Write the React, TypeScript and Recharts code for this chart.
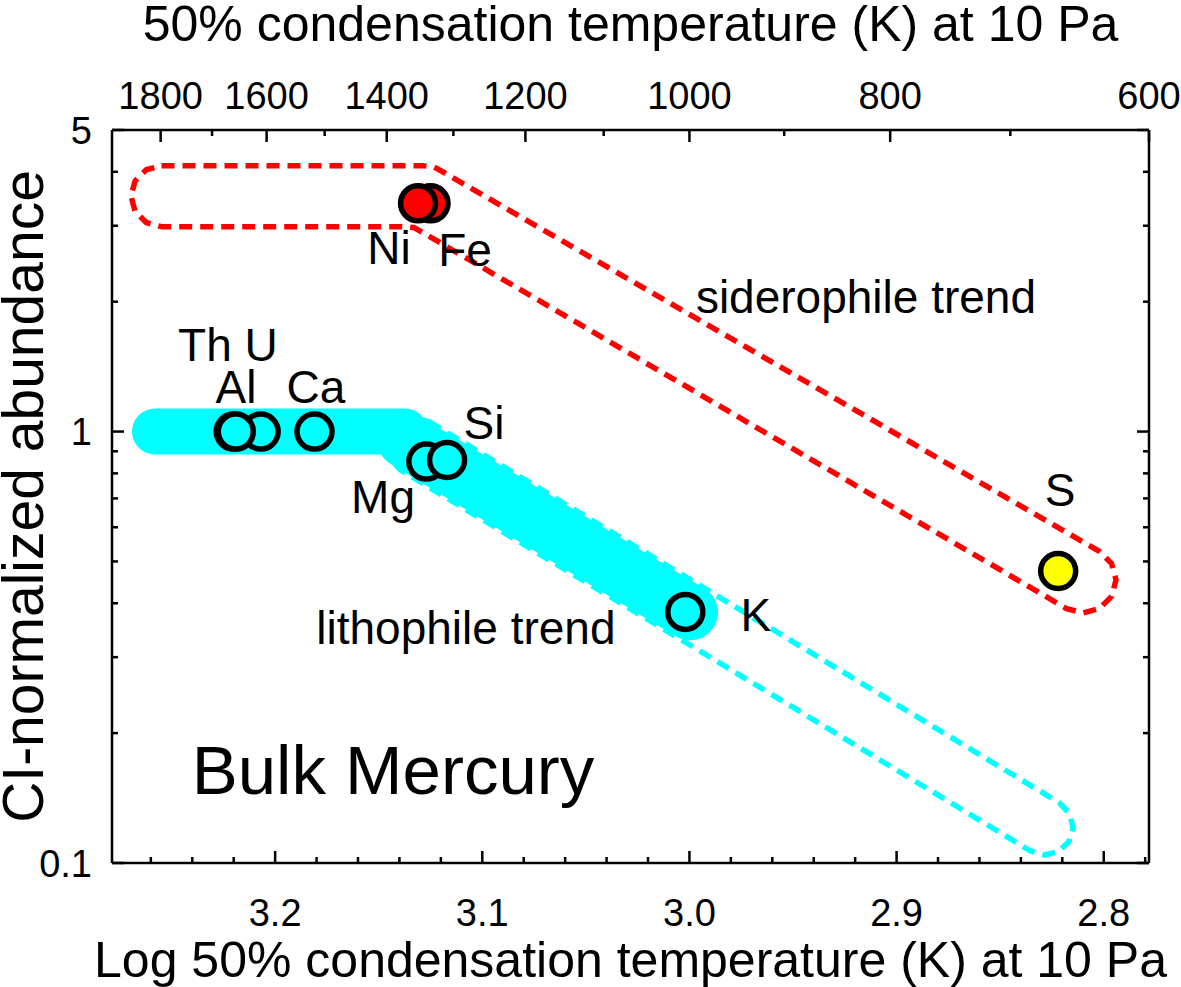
import React from 'react';
import { ComposedChart, XAxis, YAxis, Line, Scatter } from 'recharts';

const FONT = '"Liberation Sans", Arial, Helvetica, sans-serif';

// ---------- axes ----------
const tempRangeK = [600, 1900];
const logTempTicks = [3.26, 3.24, 3.22, 3.2, 3.18, 3.16, 3.14, 3.12, 3.1, 3.08, 3.06, 3.04, 3.02, 3.0, 2.98, 2.96, 2.94, 2.92, 2.9, 2.88, 2.86, 2.84, 2.82, 2.8, 2.78];
const logTempMajor = [3.2, 3.1, 3.0, 2.9, 2.8];
const tempTicksK = [1800, 1700, 1600, 1500, 1400, 1300, 1200, 1100, 1000, 900, 800, 700, 600];
const tempMajorK = [1800, 1600, 1400, 1200, 1000, 800, 600];
const abundanceRange = [0.1, 5];
const abundanceTicks = [0.1, 0.2, 0.3, 0.4, 0.5, 0.6, 0.7, 0.8, 0.9, 1, 2, 3, 4, 5];
const abundanceMajor = [0.1, 1, 5];

// ---------- elements (log10 T50, CI-normalized abundance) ----------
const lithophileNames = ['U', 'Th', 'Al', 'Ca', 'Mg', 'Si', 'K'];
const lithophileLogT = [3.207, 3.220, 3.219, 3.181, 3.127, 3.117, 3.002];
const lithophileAbund = [1.0, 1.0, 1.0, 1.0, 0.852, 0.859, 0.382];
const siderophileNames = ['Fe', 'Ni'];
const siderophileLogT = [3.125, 3.131];
const siderophileAbund = [3.38, 3.38];
const sulfurNames = ['S'];
const sulfurLogT = [2.822];
const sulfurAbund = [0.475];

// ---------- trend shapes (log10 T, abundance) ----------
const lithophileBandFlat = [[3.258, 1.0], [3.1373, 1.0]];
const lithophileBandSlope = [[3.1373, 0.956], [2.9997, 0.381]];
const lithophileOutline = [
  [3.12548, 1.0526], [2.82135, 0.13775], [2.81652, 0.13024], [2.81483, 0.1208],
  [2.81677, 0.11216], [2.82183, 0.10633], [2.82864, 0.10436], [2.83535, 0.10661],
  [3.13948, 0.8147], [3.14431, 0.8616], [3.146, 0.929], [3.14407, 1.0005],
  [3.139, 1.0554], [3.13219, 1.0753],
];
const siderophileOutline = [
  [3.25485, 4.134], [3.1291, 4.134], [3.12331, 4.105], [3.11848, 3.985],
  [2.80209, 0.5276], [2.79625, 0.4949], [2.79408, 0.4531], [2.7962, 0.4149],
  [2.802, 0.389], [2.80996, 0.3798], [2.81793, 0.3888], [3.12717, 2.862],
  [3.13296, 2.971], [3.13876, 2.985], [3.25485, 2.985], [3.26222, 3.051],
  [3.2676, 3.238], [3.26958, 3.513], [3.2676, 3.811], [3.26222, 4.044],
];

// ---------- annotations (anchor in data coords) ----------
const labelTexts = ['Ni', 'Fe', 'siderophile trend', 'Th U', 'Al', 'Ca', 'Si', 'Mg', 'K', 'lithophile trend', 'S'];
const labelLogT = [3.145, 3.1083, 2.9148, 3.2228, 3.2189, 3.1803, 3.0992, 3.1479, 2.9679, 3.1079, 2.8211];
const labelAbund = [2.664, 2.636, 2.051, 1.588, 1.269, 1.269, 1.047, 0.7053, 0.3757, 0.3505, 0.7322];
const titleTexts = ['Bulk Mercury'];
const titleLogT = [3.1431];
const titleAbund = [0.1643];

const pts = (arr: number[][]) => arr.map(([x, a]) => ({ x, a }));
const zipPts = (names: string[], xs: number[], as: number[]) =>
  names.map((n, i) => ({ name: n, x: xs[i], a: as[i] }));

const xDomain = [Math.log10(tempRangeK[0]), Math.log10(tempRangeK[1])];
const topTicks = tempTicksK.map((t) => Math.log10(t));
const near = (a: number, b: number) => Math.abs(a - b) < 1e-6;

const AX = '#000';
const TICK_FS = 38;
const axisStyle = { stroke: AX, strokeWidth: 2.5 };

const BottomTick = (p: any) => {
  const v = p.payload.value;
  const major = logTempMajor.some((m) => near(m, v));
  return (
    <g>
      <line x1={p.x} y1={p.y} x2={p.x} y2={p.y - (major ? 12 : 6)} stroke={AX} strokeWidth={2.5} />
      {major && (
        <text x={p.x} y={p.y + 63} textAnchor="middle" fontSize={TICK_FS} fontFamily={FONT} fill="#000">
          {v.toFixed(1)}
        </text>
      )}
    </g>
  );
};

const TopTick = (p: any) => {
  const v = p.payload.value;
  const t = tempTicksK.find((k) => near(Math.log10(k), v));
  const major = t !== undefined && tempMajorK.includes(t);
  return (
    <g>
      <line x1={p.x} y1={p.y} x2={p.x} y2={p.y + (major ? 12 : 6)} stroke={AX} strokeWidth={2.5} />
      {major && (
        <text x={p.x} y={p.y - 21} textAnchor="middle" fontSize={TICK_FS} fontFamily={FONT} fill="#000">
          {String(t)}
        </text>
      )}
    </g>
  );
};

const LeftTick = (p: any) => {
  const v = p.payload.value;
  const major = abundanceMajor.some((m) => near(m, v));
  return (
    <g>
      <line x1={p.x} y1={p.y} x2={p.x + (major ? 12 : 6)} y2={p.y} stroke={AX} strokeWidth={2.5} />
      {major && (
        <text x={p.x - 20} y={p.y + 13.5} textAnchor="end" fontSize={TICK_FS} fontFamily={FONT} fill="#000">
          {String(v)}
        </text>
      )}
    </g>
  );
};

const RightTick = (p: any) => {
  const v = p.payload.value;
  const major = abundanceMajor.some((m) => near(m, v));
  return <line x1={p.x} y1={p.y} x2={p.x - (major ? 12 : 6)} y2={p.y} stroke={AX} strokeWidth={2.5} />;
};

const circleShape = (fill: string) => (p: any) => (
  <circle cx={p.cx} cy={p.cy} r={17.5} fill={fill} stroke="#000" strokeWidth={5.5} />
);

const textShape = (size: number) => (p: any) => (
  <text x={p.cx} y={p.cy + size * 0.35} textAnchor="middle" fontSize={size} fontFamily={FONT} fill="#000">
    {p.payload.name}
  </text>
);

export default function App() {
  const labels = zipPts(labelTexts, labelLogT, labelAbund);
  const titles = zipPts(titleTexts, titleLogT, titleAbund);
  return (
    <div style={{ position: 'absolute', left: 0, top: 0, background: '#fff' }}>
      <ComposedChart width={1181} height={987} margin={{ top: 0, right: 0, bottom: 0, left: 0 }}>
        <XAxis
          xAxisId="b" dataKey="x" type="number" orientation="bottom" domain={xDomain} allowDataOverflow reversed
          ticks={logTempTicks} interval={0} tickSize={0} tickMargin={0} tickLine={false} tick={BottomTick}
          height={124} axisLine={axisStyle}
          label={{ value: 'Log 50% condensation temperature (K) at 10 Pa', position: 'insideBottom', offset: 10, fontSize: 50, fontFamily: FONT, fill: '#000' }}
        />
        <XAxis
          xAxisId="t" dataKey="x" type="number" orientation="top" domain={xDomain} allowDataOverflow reversed
          ticks={topTicks} interval={0} tickSize={0} tickMargin={0} tickLine={false} tick={TopTick}
          height={130} axisLine={axisStyle}
          label={{ value: '50% condensation temperature (K) at 10 Pa', position: 'insideTop', offset: 5, fontSize: 50, fontFamily: FONT, fill: '#000' }}
        />
        <YAxis
          yAxisId="l" dataKey="a" type="number" scale="log" domain={abundanceRange} allowDataOverflow
          ticks={abundanceTicks} interval={0} tickSize={0} tickMargin={0} tickLine={false} tick={LeftTick}
          width={112} axisLine={axisStyle}
          label={{ value: 'CI-normalized abundance', angle: -90, position: 'insideLeft', offset: 23, fontSize: 57, fontFamily: FONT, fill: '#000', style: { textAnchor: 'middle' } }}
        />
        <YAxis
          yAxisId="r" dataKey="a" type="number" scale="log" orientation="right" domain={abundanceRange} allowDataOverflow
          ticks={abundanceTicks} interval={0} tickSize={0} tickMargin={0} tickLine={false} tick={RightTick}
          width={32} axisLine={axisStyle}
        />

        <Line xAxisId="b" yAxisId="l" data={pts(siderophileOutline)} dataKey="a" type="linearClosed"
          stroke="#ff0000" strokeWidth={5.5} strokeDasharray="13 8" dot={false} activeDot={false}
          strokeLinejoin="round" isAnimationActive={false} legendType="none" />
        <Line xAxisId="b" yAxisId="l" data={pts(lithophileOutline)} dataKey="a" type="linearClosed"
          stroke="#00ffff" strokeWidth={5.5} strokeDasharray="13 8" dot={false} activeDot={false}
          strokeLinejoin="round" isAnimationActive={false} legendType="none" />
        <Line xAxisId="b" yAxisId="l" data={pts(lithophileBandFlat)} dataKey="a" type="linear"
          stroke="#00ffff" strokeWidth={46} strokeLinecap="round" dot={false} activeDot={false}
          isAnimationActive={false} legendType="none" />
        <Line xAxisId="b" yAxisId="l" data={pts(lithophileBandSlope)} dataKey="a" type="linear"
          stroke="#00ffff" strokeWidth={56} strokeLinecap="round" dot={false} activeDot={false}
          isAnimationActive={false} legendType="none" />

        <Scatter xAxisId="b" yAxisId="l" data={zipPts(lithophileNames, lithophileLogT, lithophileAbund)}
          shape={circleShape('#00ffff')} isAnimationActive={false} legendType="none" />
        <Scatter xAxisId="b" yAxisId="l" data={zipPts(siderophileNames, siderophileLogT, siderophileAbund)}
          shape={circleShape('#ff0000')} isAnimationActive={false} legendType="none" />
        <Scatter xAxisId="b" yAxisId="l" data={zipPts(sulfurNames, sulfurLogT, sulfurAbund)}
          shape={circleShape('#ffff00')} isAnimationActive={false} legendType="none" />

        <Scatter xAxisId="b" yAxisId="l" data={labels} shape={textShape(46)} isAnimationActive={false} legendType="none" />
        <Scatter xAxisId="b" yAxisId="l" data={titles} shape={textShape(69)} isAnimationActive={false} legendType="none" />
      </ComposedChart>
    </div>
  );
}
